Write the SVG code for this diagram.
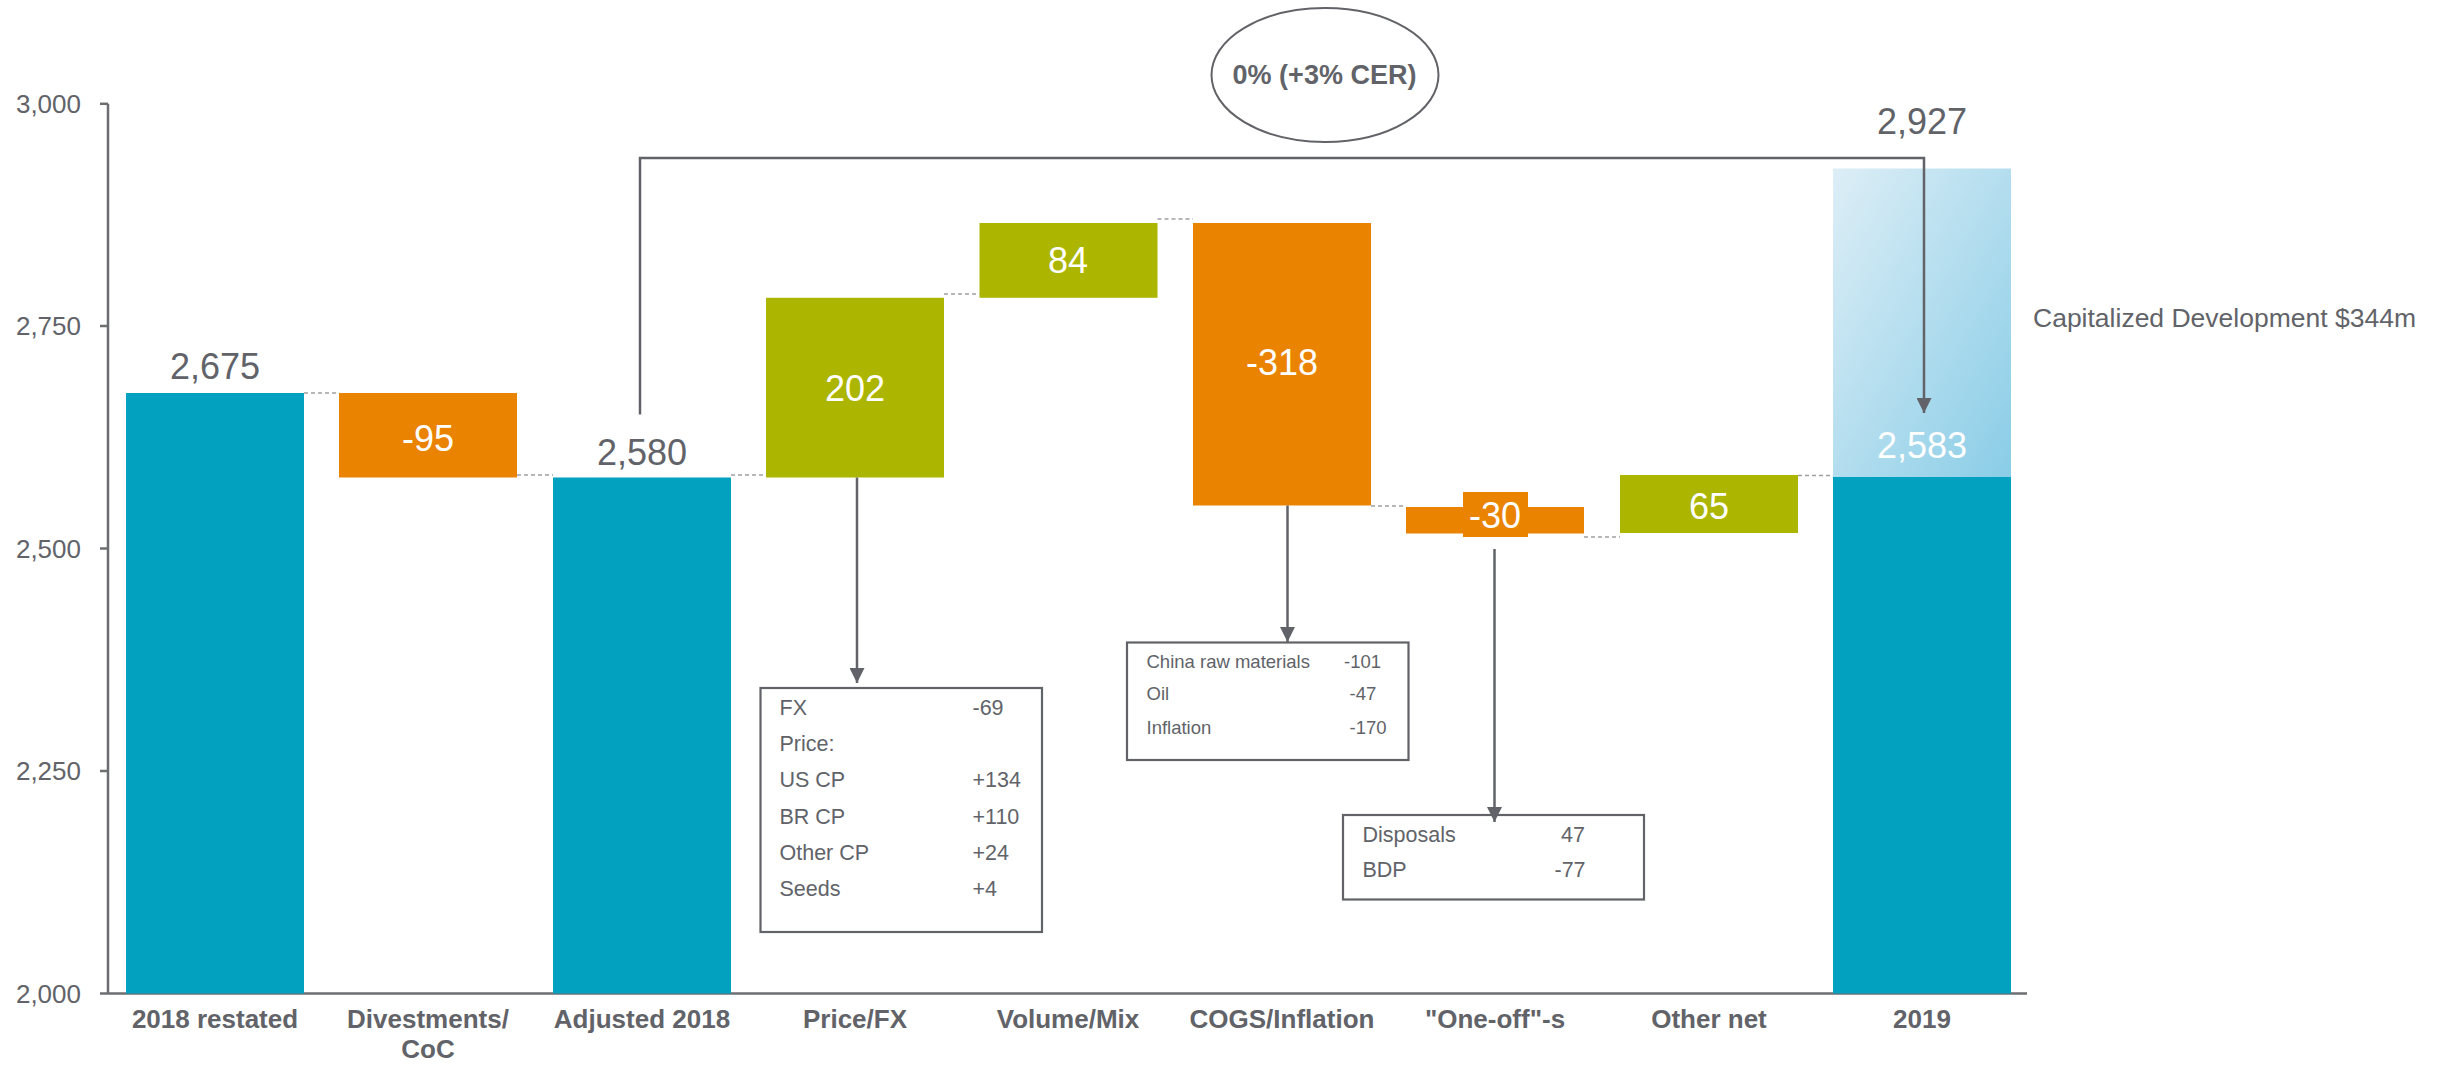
<svg xmlns="http://www.w3.org/2000/svg" width="2443" height="1066" viewBox="0 0 2443 1066">
<style>
text{font-family:"Liberation Sans",Arial,sans-serif;fill:#616369}
.tick{font-size:26px;text-anchor:end}
.cat{font-size:26px;font-weight:bold;text-anchor:middle}
.val{font-size:36px;text-anchor:middle}
.w{fill:#ffffff}
.teal{fill:#01A1BF}
.orange{fill:#EA8300}
.green{fill:#ACB500}
.dash{stroke:#A0A0A4;stroke-width:1.5;stroke-dasharray:4 3;fill:none}
.ax{stroke:#6D6E72;stroke-width:2.5;fill:none}
.conn{stroke:#626368;stroke-width:2.5;fill:none}
.box{fill:#ffffff;stroke:#626368;stroke-width:2.2}
.bt{font-size:21.5px}
.bs{font-size:18.5px}
</style>
<defs>
<linearGradient id="cap" x1="0" y1="0" x2="1" y2="1">
<stop offset="0" stop-color="#DDEEF6"/>
<stop offset="1" stop-color="#8ACDE7"/>
</linearGradient>
<marker id="ah" viewBox="0 0 10 10" refX="10" refY="5" markerWidth="6" markerHeight="6" markerUnits="strokeWidth" orient="auto">
<path d="M0,0 L10,5 L0,10 z" fill="#626368"/>
</marker>
</defs>

<g id="axes">
<line class="ax" x1="108" y1="103.8" x2="108" y2="993.5"/>
<line class="ax" x1="100" y1="993.5" x2="2027" y2="993.5"/>
<line class="ax" x1="100" y1="103.8" x2="108" y2="103.8"/>
<line class="ax" x1="100" y1="326" x2="108" y2="326"/>
<line class="ax" x1="100" y1="548.5" x2="108" y2="548.5"/>
<line class="ax" x1="100" y1="771" x2="108" y2="771"/>
<text class="tick" x="81" y="113">3,000</text>
<text class="tick" x="81" y="335">2,750</text>
<text class="tick" x="81" y="557.5">2,500</text>
<text class="tick" x="81" y="780">2,250</text>
<text class="tick" x="81" y="1002.5">2,000</text>
</g>

<g id="bar-2018-restated">
<rect class="teal" x="126" y="393" width="178" height="600.5"/>
<text class="val" x="215" y="379">2,675</text>
<text class="cat" x="215" y="1028">2018 restated</text>
</g>

<g id="bar-divestments">
<rect class="orange" x="339" y="393" width="178" height="84.5"/>
<text class="val w" x="428" y="450.5">-95</text>
<text class="cat" x="428" y="1028">Divestments/</text>
<text class="cat" x="428" y="1058">CoC</text>
</g>

<g id="bar-adjusted-2018">
<rect class="teal" x="553" y="477.5" width="178" height="516"/>
<text class="val" x="642" y="465">2,580</text>
<text class="cat" x="642" y="1028">Adjusted 2018</text>
</g>

<g id="bar-price-fx">
<rect class="green" x="766" y="297.8" width="178" height="179.7"/>
<text class="val w" x="855" y="400.5">202</text>
<text class="cat" x="855" y="1028">Price/FX</text>
</g>

<g id="bar-volume-mix">
<rect class="green" x="979.5" y="223" width="178" height="74.8"/>
<text class="val w" x="1068" y="272.5">84</text>
<text class="cat" x="1068" y="1028">Volume/Mix</text>
</g>

<g id="bar-cogs">
<rect class="orange" x="1193" y="223" width="178" height="282.5"/>
<text class="val w" x="1282" y="375">-318</text>
<text class="cat" x="1282" y="1028">COGS/Inflation</text>
</g>

<g id="bar-one-off">
<rect class="orange" x="1406" y="507" width="178" height="26.5"/>
<rect class="orange" x="1463" y="492" width="65" height="45"/>
<text class="val w" x="1495" y="527.5">-30</text>
<text class="cat" x="1495" y="1028">"One-off"-s</text>
</g>

<g id="bar-other-net">
<rect class="green" x="1620" y="475" width="178" height="58"/>
<text class="val w" x="1709" y="519">65</text>
<text class="cat" x="1709" y="1028">Other net</text>
</g>

<g id="bar-2019">
<rect fill="url(#cap)" x="1833" y="168.5" width="178" height="308.5"/>
<rect class="teal" x="1833" y="477" width="178" height="516.5"/>
<text class="val" x="1922" y="133.5">2,927</text>
<text class="val w" x="1922" y="457.5">2,583</text>
<text class="cat" x="1922" y="1028">2019</text>
<text x="2033" y="326.5" font-size="26.5">Capitalized Development $344m</text>
</g>

<g id="growth-label">
<ellipse cx="1325" cy="75" rx="113.5" ry="67" fill="#ffffff" stroke="#626368" stroke-width="2"/>
<text x="1324.5" y="83.5" font-size="27" font-weight="bold" text-anchor="middle">0% (+3% CER)</text>
</g>

<g id="box-price-fx">
<rect class="box" x="760.5" y="688" width="281.5" height="244"/>
<text class="bt" x="779.5" y="714.5">FX</text>
<text class="bt" x="972.5" y="714.5">-69</text>
<text class="bt" x="779.5" y="750.5">Price:</text>
<text class="bt" x="779.5" y="787">US CP</text>
<text class="bt" x="972.5" y="787">+134</text>
<text class="bt" x="779.5" y="823.5">BR CP</text>
<text class="bt" x="972.5" y="823.5">+110</text>
<text class="bt" x="779.5" y="860">Other CP</text>
<text class="bt" x="972.5" y="860">+24</text>
<text class="bt" x="779.5" y="896">Seeds</text>
<text class="bt" x="972.5" y="896">+4</text>
</g>

<g id="box-cogs">
<rect class="box" x="1127" y="642.5" width="281.5" height="117.5"/>
<text class="bs" x="1146.5" y="667.5">China raw materials</text>
<text class="bs" x="1344" y="667.5">-101</text>
<text class="bs" x="1146.5" y="700">Oil</text>
<text class="bs" x="1349.5" y="700">-47</text>
<text class="bs" x="1146.5" y="733.5">Inflation</text>
<text class="bs" x="1349.5" y="733.5">-170</text>
</g>

<g id="box-one-off">
<rect class="box" x="1343" y="815" width="301" height="84.5"/>
<text class="bt" x="1362.5" y="841.5">Disposals</text>
<text class="bt" x="1561" y="841.5">47</text>
<text class="bt" x="1362.5" y="877">BDP</text>
<text class="bt" x="1554.5" y="877">-77</text>
</g>

<g id="connectors">
<line class="dash" x1="304" y1="393" x2="339" y2="393"/>
<line class="dash" x1="517" y1="475" x2="553" y2="475"/>
<line class="dash" x1="731" y1="475" x2="766" y2="475"/>
<line class="dash" x1="944" y1="294" x2="979.5" y2="294"/>
<line class="dash" x1="1157.5" y1="219" x2="1193" y2="219"/>
<line class="dash" x1="1371" y1="506" x2="1406" y2="506"/>
<line class="dash" x1="1584" y1="537" x2="1620" y2="537"/>
<line class="dash" x1="1798" y1="475.5" x2="1833" y2="475.5"/>
<path class="conn" d="M640,414.5 V158 H1924 V413" marker-end="url(#ah)"/>
<line class="conn" x1="857" y1="477.5" x2="857" y2="683" marker-end="url(#ah)"/>
<line class="conn" x1="1287.5" y1="505.5" x2="1287.5" y2="642" marker-end="url(#ah)"/>
<line class="conn" x1="1494.5" y1="549" x2="1494.5" y2="822" marker-end="url(#ah)"/>
</g>
</svg>
